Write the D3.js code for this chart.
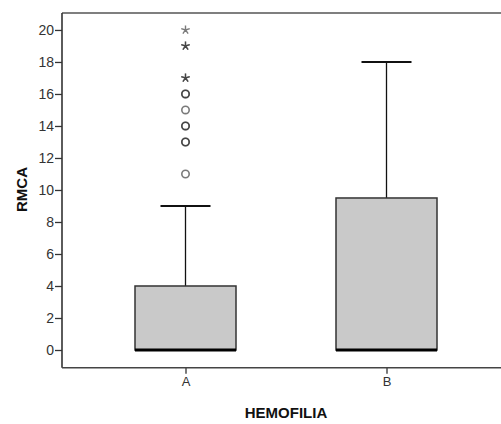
<!DOCTYPE html>
<html><head><meta charset="utf-8">
<script src="https://cdn.jsdelivr.net/npm/d3@7"></script>
<style>body{margin:0;background:#fff}svg{display:block}</style>
</head><body>
<svg id="c" width="501" height="424"></svg>
<script>
const categories = ["A", "B"];
const q1 = [0, 0];
const median = [0, 0];
const q3 = [4, 9.5];
const whiskerLow = [0, 0];
const whiskerHigh = [9, 18];
const outliersA = [11, 13, 13, 14, 14, 15, 16, 16];
const extremesA = [17, 17, 19, 19, 20];
const yTicks = [0, 2, 4, 6, 8, 10, 12, 14, 16, 18, 20];

(function () {
const svg = d3.select("#c");
const pLeft = 62, pTop = 13, pBottom = 367.7, pRight = 503;
const y = d3.scaleLinear().domain([-1.106, 21.06]).range([pBottom, pTop]);
const x = d3.scalePoint().domain(categories).range([185.5, 386.5]);
const boxW = 101, capW = 50;
const font = "'Liberation Sans', Arial, sans-serif";

// frame
svg.append("line").attr("x1", pLeft).attr("x2", pRight).attr("y1", pTop).attr("y2", pTop)
  .attr("stroke", "#555").attr("stroke-width", 1.6);

// y axis
const ya = svg.append("g").attr("transform", `translate(${pLeft},0)`)
  .call(d3.axisLeft(y).tickValues(yTicks).tickSize(7).tickPadding(1));
ya.select(".domain").remove();
ya.selectAll("line").attr("stroke", "#333").attr("stroke-width", 1.3);
ya.selectAll("text").attr("font-family", font).attr("font-size", 14).attr("fill", "#333");
svg.append("line").attr("x1", pLeft).attr("x2", pLeft).attr("y1", pTop).attr("y2", pBottom)
  .attr("stroke", "#333").attr("stroke-width", 1.6);

// x axis
const xa = svg.append("g").attr("transform", `translate(0,${pBottom})`)
  .call(d3.axisBottom(x).tickSize(6).tickPadding(3));
xa.select(".domain").remove();
xa.selectAll("line").attr("stroke", "#333").attr("stroke-width", 1.3);
xa.selectAll("text").attr("font-family", font).attr("font-size", 13).attr("fill", "#333");
svg.append("line").attr("x1", pLeft).attr("x2", pRight).attr("y1", pBottom).attr("y2", pBottom)
  .attr("stroke", "#444").attr("stroke-width", 1.6);

// boxes
categories.forEach((c, i) => {
  const cx = x(c);
  const g = svg.append("g");
  g.append("line").attr("x1", cx).attr("x2", cx).attr("y1", y(whiskerHigh[i])).attr("y2", y(q3[i]))
    .attr("stroke", "#111").attr("stroke-width", 1.3);
  g.append("line").attr("x1", cx - capW / 2).attr("x2", cx + capW / 2)
    .attr("y1", y(whiskerHigh[i])).attr("y2", y(whiskerHigh[i]))
    .attr("stroke", "#111").attr("stroke-width", 2);
  g.append("line").attr("x1", cx).attr("x2", cx).attr("y1", y(q1[i])).attr("y2", y(whiskerLow[i]))
    .attr("stroke", "#111").attr("stroke-width", 1.3);
  g.append("rect").attr("x", cx - boxW / 2).attr("y", y(q3[i]))
    .attr("width", boxW).attr("height", Math.max(0, y(q1[i]) - y(q3[i])))
    .attr("fill", "#c9c9c9").attr("stroke", "#333").attr("stroke-width", 1.5);
  g.append("line").attr("x1", cx - boxW / 2).attr("x2", cx + boxW / 2)
    .attr("y1", y(median[i])).attr("y2", y(median[i]))
    .attr("stroke", "#000").attr("stroke-width", 3);
});

// outliers
const cxA = x("A");
svg.append("g").selectAll("circle").data(outliersA).join("circle")
  .attr("cx", cxA).attr("cy", d => y(d)).attr("r", 3.7)
  .attr("fill", "none").attr("stroke", "#222").attr("stroke-opacity", 0.6).attr("stroke-width", 1.6);

const star5 = {
  draw(ctx, size) {
    const r = Math.sqrt(size) / 2;
    for (let k = 0; k < 5; k++) {
      const a = -Math.PI / 2 + k * 2 * Math.PI / 5;
      ctx.moveTo(0, 0);
      ctx.lineTo(r * Math.cos(a), r * Math.sin(a));
    }
  }
};
svg.append("g").selectAll("path").data(extremesA).join("path")
  .attr("transform", d => `translate(${cxA},${y(d)})`)
  .attr("d", d3.symbol().type(star5).size(80))
  .attr("fill", "none").attr("stroke", "#222").attr("stroke-opacity", 0.6).attr("stroke-width", 1.4);

// axis titles
svg.append("text").attr("x", 286).attr("y", 418).attr("text-anchor", "middle")
  .attr("font-family", font).attr("font-weight", "bold").attr("font-size", 15).attr("fill", "#111")
  .text("HEMOFILIA");
svg.append("text").attr("transform", "translate(26.5,189.5) rotate(-90)").attr("text-anchor", "middle")
  .attr("font-family", font).attr("font-weight", "bold").attr("font-size", 15).attr("fill", "#111")
  .text("RMCA");
})();
</script>
</body></html>
